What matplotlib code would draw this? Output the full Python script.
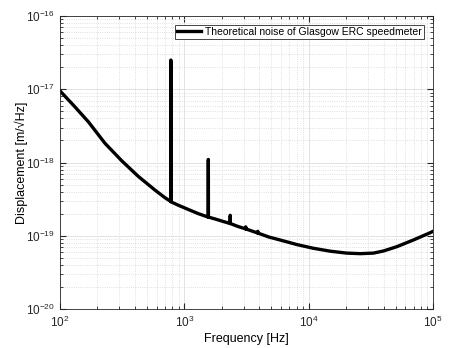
import numpy as np
import matplotlib
matplotlib.use('Agg')
import matplotlib.pyplot as plt
from matplotlib.ticker import NullFormatter, LogLocator

# values (log-log noise curve with harmonic spikes)
freq = [100, 130, 169, 230, 313, 427, 581, 700, 776, 778, 780, 782,
        900, 1100, 1300, 1556, 1558, 1560, 1562, 1800, 2100, 2336, 2338, 2340, 2342,
        2700, 3116, 3118, 3120, 3122, 3500, 3896, 3898, 3900, 3902,
        4800, 5900, 8000, 10900, 15000, 20200, 26000, 33200, 40000, 51200, 70000, 94800, 100000]
noise = [9.5e-18, 5.9e-18, 3.6e-18, 1.83e-18, 1.06e-18, 6.45e-19, 4.2e-19, 3.3e-19, 2.95e-19, 2.5e-17, 2.5e-17, 2.9e-19,
         2.6e-19, 2.25e-19, 2.0e-19, 1.8e-19, 1.1e-18, 1.1e-18, 1.8e-19, 1.68e-19, 1.55e-19, 1.47e-19, 1.9e-19, 1.9e-19, 1.47e-19,
         1.34e-19, 1.24e-19, 1.32e-19, 1.32e-19, 1.24e-19, 1.16e-19, 1.09e-19, 1.15e-19, 1.15e-19, 1.09e-19,
         9.6e-20, 8.75e-20, 7.6e-20, 6.75e-20, 6.15e-20, 5.8e-20, 5.7e-20, 5.8e-20, 6.2e-20, 7.1e-20, 8.8e-20, 1.1e-19, 1.15e-19]
xticks = [1e2, 1e3, 1e4, 1e5]
yticks = [1e-20, 1e-19, 1e-18, 1e-17, 1e-16]

plt.rcParams['font.family'] = ['Liberation Sans', 'DejaVu Sans']
plt.rcParams['mathtext.fontset'] = 'custom'
plt.rcParams['mathtext.rm'] = 'Liberation Sans'

fig = plt.figure(figsize=(4.63, 3.48), dpi=100)
ax = fig.add_axes([0.1296, 0.112, 0.8056, 0.842])

ax.loglog(freq, noise, color='black', linewidth=2.4,
          label='Theoretical noise of Glasgow ERC speedmeter')
ax.set_xlim(1e2, 1e5)
ax.set_ylim(1e-20, 1e-16)
ax.set_xticks(xticks)
ax.set_yticks(yticks)
ax.xaxis.set_minor_locator(LogLocator(base=10, subs=np.arange(2, 10)))
ax.yaxis.set_minor_locator(LogLocator(base=10, subs=np.arange(2, 10)))
ax.xaxis.set_minor_formatter(NullFormatter())
ax.yaxis.set_minor_formatter(NullFormatter())

ax.grid(True, which='major', color='#e3e3e3', linestyle='-', linewidth=0.7)
ax.grid(True, which='minor', color='#d6d6d6', linestyle=':', linewidth=0.6)
ax.set_axisbelow(True)

ax.tick_params(which='both', direction='in', top=True, right=True, colors='#262626', labelsize=8.5)
ax.tick_params(which='major', length=4, pad=4)
ax.tick_params(which='minor', length=2.2)
for s in ax.spines.values():
    s.set_color('#262626')
    s.set_linewidth(0.6)

ax.set_xlabel('Frequency [Hz]', fontsize=9, labelpad=2)
ax.set_ylabel('Displacement [m/\u221aHz]', fontsize=9, labelpad=-2)

leg = ax.legend(loc='upper right', fontsize=7.5, fancybox=False, framealpha=1,
                handlelength=2.3, borderpad=0.2, handletextpad=0.4,
                borderaxespad=0.85)
leg.get_frame().set_edgecolor('#262626')
leg.get_frame().set_linewidth(0.6)

fig.savefig('out.png', dpi=100)
